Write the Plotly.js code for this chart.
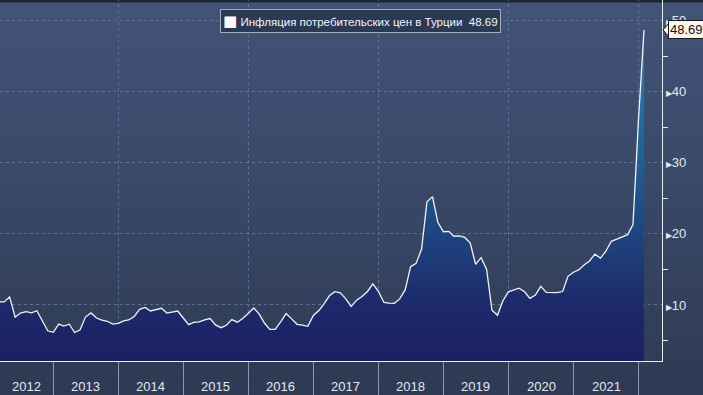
<!DOCTYPE html>
<html>
<head>
<meta charset="utf-8">
<script src="https://cdn.plot.ly/plotly-3.0.1.min.js"></script>
<style>
  html, body { margin: 0; padding: 0; }
  body {
    width: 703px; height: 395px; overflow: hidden;
    background: linear-gradient(to bottom, #1d2535 0px, #1d2535 2px, #425378 3px, #394969 45%, #2e3a53 100%);
  }
  #chart { width: 703px; height: 395px; }
</style>
</head>
<body>
<div id="chart"></div>
<script>
// ---- data (annual CPI inflation in Turkey, %, monthly) ----
const startYear = 2012;           // first month: January 2012
const values2012 = [10.61, 10.43, 10.43, 11.14, 8.28, 8.87, 9.07, 8.88, 9.19, 7.80, 6.37, 6.16];
const values2013 = [7.31, 7.03, 7.29, 6.13, 6.51, 8.30, 8.88, 8.17, 7.88, 7.71, 7.32, 7.40];
const values2014 = [7.75, 7.89, 8.39, 9.38, 9.66, 9.16, 9.32, 9.54, 8.86, 8.96, 9.15, 8.17];
const values2015 = [7.24, 7.55, 7.61, 7.91, 8.09, 7.20, 6.81, 7.14, 7.95, 7.58, 8.10, 8.81];
const values2016 = [9.58, 8.78, 7.46, 6.57, 6.58, 7.64, 8.79, 8.05, 7.28, 7.16, 7.00, 8.53];
const values2017 = [9.22, 10.13, 11.29, 11.87, 11.72, 10.90, 9.79, 10.68, 11.20, 11.90, 12.98, 11.92];
const values2018 = [10.35, 10.26, 10.23, 10.85, 12.15, 15.39, 15.85, 17.90, 24.52, 25.24, 21.62, 20.30];
const values2019 = [20.35, 19.67, 19.71, 19.50, 18.71, 15.72, 16.65, 15.01, 9.26, 8.55, 10.56, 11.84];
const values2020 = [12.15, 12.37, 11.86, 10.94, 11.39, 12.62, 11.76, 11.77, 11.75, 11.89, 14.03, 14.60];
const values2021 = [14.97, 15.61, 16.19, 17.14, 16.59, 17.53, 18.95, 19.25, 19.58, 19.89, 21.31, 36.08];
const values2022 = [48.69];

const seriesName = 'Инфляция потребительских цен в Турции';
const lastLabel = '48.69';
const yearLabels = ['2012','2013','2014','2015','2016','2017','2018','2019','2020','2021'];
const gridYears = ['2014','2016','2018','2020','2022'];
const yTickVals = [10, 20, 30, 40, 50];
const yMinorVals = [5, 15, 25, 35, 45];

// ---- build series (month-end dates) ----
const values = [].concat(values2012, values2013, values2014, values2015, values2016,
                         values2017, values2018, values2019, values2020, values2021, values2022);
const pad = n => String(n).padStart(2, '0');
const dates = values.map((v, i) => {
  const y = startYear + Math.floor(i / 12), m = i % 12 + 1;
  const last = new Date(Date.UTC(y, m, 0)).getUTCDate();
  return y + '-' + pad(m) + '-' + pad(last);
});

const xRange = ['2012-03-07', '2022-05-12'];
const yRange = [2.12, 52.9];

// year label positions: middle of the visible part of each year
const t0 = Date.parse(xRange[0]);
const labelPos = yearLabels.map(y => {
  const a = Math.max(Date.UTC(+y, 0, 1), t0), b = Date.UTC(+y + 1, 0, 1);
  return new Date((a + b) / 2).toISOString().slice(0, 10);
});
const yearBounds = yearLabels.map(y => (+y + 1) + '-01-01');

const font = 'Liberation Sans, Arial, sans-serif';
const gridColor = '#5f7194';
const gridDash = '3px,3px';
const textColor = '#e4e8ef';

const trace = {
  x: dates, y: values, type: 'scatter', mode: 'lines',
  line: { color: '#f2f2f4', width: 1.3 },
  fill: 'tozeroy',
  fillgradient: {
    type: 'vertical', start: 2, stop: 50,
    colorscale: [[0, '#1b1f62'], [0.17, '#1c2a6b'], [0.38, '#1e4680'], [0.6, '#1f6196'], [1, '#2288ba']]
  },
  showlegend: false, hoverinfo: 'skip'
};

const legendY = 0.942;
const shapes = gridYears.map(y => ({
  type: 'line', xref: 'x', yref: 'paper', x0: y + '-01-01', x1: y + '-01-01', y0: 0, y1: 1,
  line: { color: gridColor, width: 1, dash: gridDash }, layer: 'below'
}));
shapes.push({
  type: 'path', xref: 'paper', yref: 'y', xsizemode: 'pixel', ysizemode: 'pixel',
  xanchor: 1, yanchor: values[values.length - 1],
  path: 'M1,0 L8,-8 L8,8 Z',
  fillcolor: '#fcf6ec', line: { color: '#1a1a1a', width: 1 }, layer: 'above'
});

const annotations = yearLabels.map((t, i) => ({
  xref: 'x', yref: 'paper', x: labelPos[i], y: -0.072, xanchor: 'center', yanchor: 'middle',
  showarrow: false, text: t, font: { family: font, size: 13, color: textColor }
}));
annotations.push({
  xref: 'paper', yref: 'paper', x: 0.5446, y: legendY, xanchor: 'center', yanchor: 'middle',
  showarrow: false,
  text: '<span style="font-size:15px;color:#fff8f8;font-family:DejaVu Sans">■</span> ' + seriesName + '  ' + lastLabel,
  font: { family: font, size: 11.5, color: '#f2f4f8' },
  bgcolor: '#2b3955', bordercolor: '#a4adbd', borderwidth: 1, borderpad: 2
});
annotations.push({
  xref: 'paper', yref: 'y', x: 1, y: values[values.length - 1],
  xanchor: 'left', yanchor: 'middle', xshift: 6,
  showarrow: false, text: lastLabel,
  font: { family: font, size: 13, color: '#111111' },
  bgcolor: '#fcf6ec', bordercolor: '#1a1a1a', borderwidth: 1, borderpad: 1
});

const layout = {
  width: 703, height: 395,
  margin: { l: 0, r: 41, t: 0, b: 34 },
  paper_bgcolor: 'rgba(0,0,0,0)', plot_bgcolor: 'rgba(0,0,0,0)',
  font: { family: font, size: 13, color: textColor },
  showlegend: false,
  xaxis: {
    type: 'date', range: xRange, fixedrange: true,
    tickmode: 'array', tickvals: yearBounds, ticktext: yearBounds.map(() => ''),
    ticks: 'outside', ticklen: 34, tickwidth: 1, tickcolor: '#8f98ab',
    showgrid: false, zeroline: false,
    showline: true, linecolor: '#e8ebf0', linewidth: 1.2
  },
  yaxis: {
    range: yRange, side: 'right', fixedrange: true,
    tickmode: 'array', tickvals: yTickVals,
    ticktext: yTickVals.map(v => '<span style="font-size:8px">▶</span>' + v),
    ticks: '', showgrid: true, griddash: gridDash, gridcolor: gridColor, gridwidth: 1,
    zeroline: false, showline: true, linecolor: '#e8ebf0', linewidth: 1.2,
    tickfont: { family: font, size: 13, color: textColor },
    minor: { tickmode: 'array', tickvals: yMinorVals, ticks: 'outside', ticklen: 5, tickcolor: '#e8ebf0', showgrid: false }
  },
  shapes: shapes,
  annotations: annotations
};

Plotly.newPlot('chart', [trace], layout, { displayModeBar: false, staticPlot: true });
</script>
</body>
</html>
